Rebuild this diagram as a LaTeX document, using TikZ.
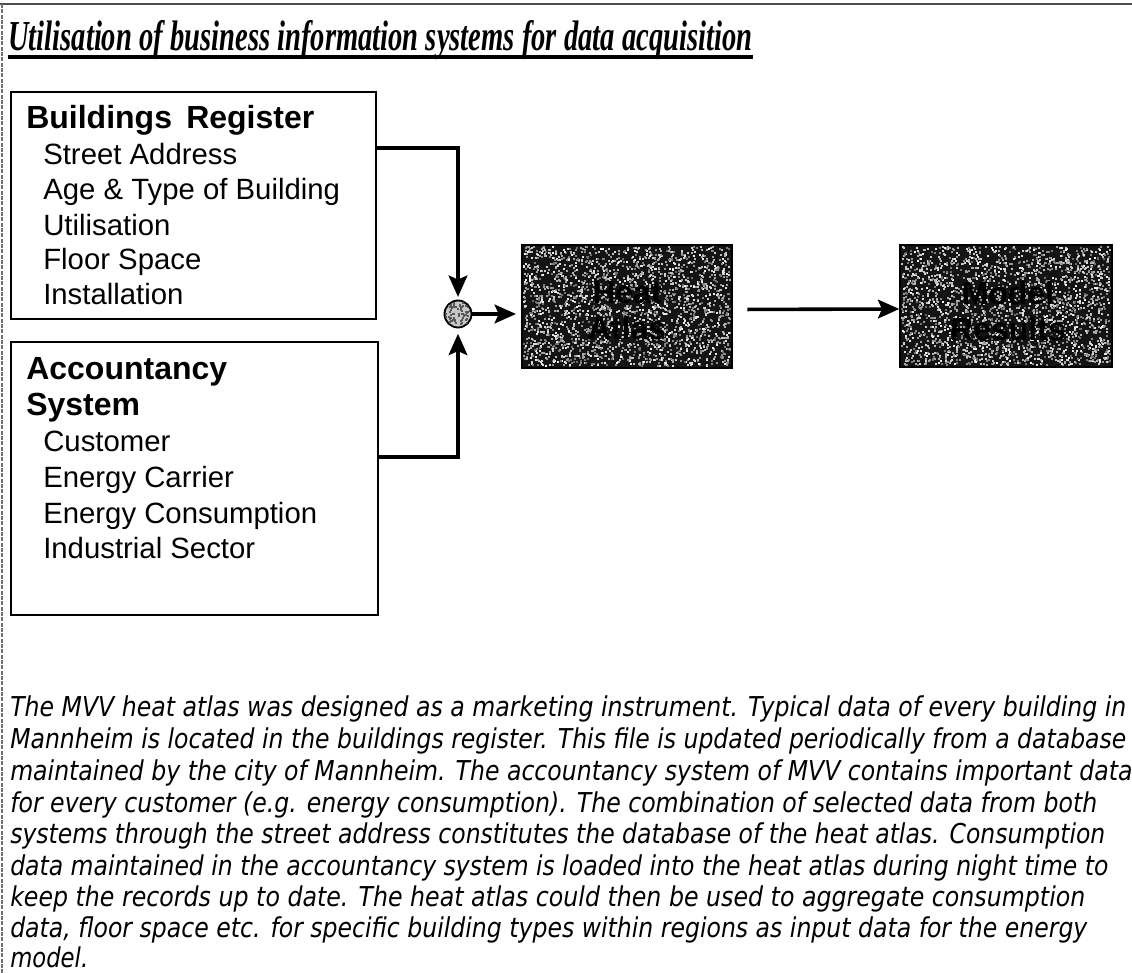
\documentclass[tikz,border=0pt]{standalone}
\usepackage{fontspec}
\setmainfont{Liberation Serif}
\newfontfamily\arialfont{Liberation Sans}
\newfontfamily\notefont{DejaVu Sans}
\usetikzlibrary{arrows.meta}
\newdimen\pxu \pxu=0.75pt
\begin{document}
\begin{tikzpicture}[x=0.75pt,y=-0.75pt,
  panel/.style={draw=black, line width=1.3pt, fill=none, inner sep=0, anchor=north west},
  darkbox/.style={draw=black, line width=1pt, fill=black!92, inner sep=0},
  flow/.style={line width=2.7pt, -{Stealth[length=16pt,width=14pt,inset=3pt]}},
  head/.style={font=\arialfont\bfseries\fontsize{24}{28}\selectfont, anchor=base west, inner sep=0},
  item/.style={font=\arialfont\fontsize{22}{26}\selectfont, anchor=base west, inner sep=0},
  darklabel/.style={font=\arialfont\bfseries\fontsize{24}{27}\selectfont, align=center, text=black, inner sep=0},
  note/.style={font=\notefont\itshape\fontsize{20.5}{24}\selectfont, anchor=base west, inner sep=0}
]
\useasboundingbox (0,0) rectangle (1132,973);
\fill[white] (0,0) rectangle (1132,973);

% page frame
\draw[black!70, line width=1.5pt] (0,4) -- (1132,4);
\draw[black!55, line width=0.8pt, dash pattern=on 3pt off 1pt] (2,4) -- (2,973);

% heading
\node[anchor=base west, inner sep=0, font=\bfseries\itshape\fontsize{32}{36}\selectfont] (title) at (8,51)
  {\resizebox{744\pxu}{\height}{Utilisation of business information systems for data acquisition}};
\draw[line width=2.4pt] ([yshift=-6\pxu]title.base west) -- ([yshift=-6\pxu]title.base east);

% source systems
\node[panel, minimum width=365\pxu, minimum height=227\pxu] (reg) at (10,91) {};
\node[head] (regtitle) at (26,129) {Buildings\hspace{4pt} Register};
\node[item] (reg1) at (43,165) {Street Address};
\node[item] (reg2) at (43,200) {Age \& Type of Building};
\node[item] (reg3) at (43,236) {Utilisation};
\node[item] (reg4) at (43,270) {Floor Space};
\node[item] (reg5) at (43,305) {Installation};

\node[panel, minimum width=367\pxu, minimum height=273\pxu] (acc) at (10,341) {};
\node[head] (acctitle1) at (26,380) {Accountancy};
\node[head] (acctitle2) at (26,416) {System};
\node[item] (acc1) at (43,452) {Customer};
\node[item] (acc2) at (43,488) {Energy Carrier};
\node[item] (acc3) at (43,523) {Energy Consumption};
\node[item] (acc4) at (43,558) {Industrial Sector};

% join point
\node[circle, draw=black, line width=1.4pt, fill=black!22, minimum size=27\pxu, inner sep=0] (mix) at (458,314) {};
\begin{scope}
  \clip (mix.center) circle[radius=9.8pt];
  \pgfmathsetseed{11}
  \foreach \k in {1,...,90}{
    \pgfmathsetmacro\sx{444+28*rnd}
    \pgfmathsetmacro\sy{300+28*rnd}
    \fill[black!65] (\sx,\sy) rectangle ++(2,2);
  }
\end{scope}

% target systems
\node[darkbox, minimum width=210\pxu, minimum height=123\pxu] (atlas) at (627,306.5) {};
\node[darkbox, minimum width=212\pxu, minimum height=122\pxu] (model) at (1006,306) {};
\pgfmathsetseed{42}
\foreach \k in {1,...,2200}{
  \pgfmathsetmacro\sx{523+206*rnd}
  \pgfmathsetmacro\sy{246+119*rnd}
  \pgfmathsetmacro\sg{40+55*rnd}
  \fill[white!\sg!black] (\sx,\sy) rectangle ++(2,2);
}
\foreach \k in {1,...,2200}{
  \pgfmathsetmacro\sx{901+208*rnd}
  \pgfmathsetmacro\sy{246+118*rnd}
  \pgfmathsetmacro\sg{40+55*rnd}
  \fill[white!\sg!black] (\sx,\sy) rectangle ++(2,2);
}
\node[darklabel] (atlaslabel) at (627,311) {Heat\\Atlas};
\node[darklabel] (modellabel) at (1008,311) {Model\\Results};

% data flow
\draw[flow, shorten >=2pt] ([yshift=-57\pxu]reg.north east) -| (mix.north);
\draw[flow, shorten >=4pt] ([yshift=-116\pxu]acc.north east) -| (mix.south);
\draw[flow, shorten >=4pt] (mix.east) -- (mix.east -| atlas.west);
\draw[flow, shorten <=11pt] ([yshift=-3\pxu]atlas.east) -- ([yshift=-3\pxu]model.west);

% explanatory note
\node[note] (n1) at (10,716) {\resizebox{1116\pxu}{\height}{The MVV heat atlas was designed as a marketing instrument. Typical data of every building in}};
\node[note] (n2) at (10,748) {\resizebox{1116\pxu}{\height}{Mannheim is located in the buildings register. This file is updated periodically from a database}};
\node[note] (n3) at (10,780) {\resizebox{1122\pxu}{\height}{maintained by the city of Mannheim. The accountancy system of MVV contains important data}};
\node[note] (n4) at (10,812) {\resizebox{1087\pxu}{\height}{for every customer (e.g. energy consumption). The combination of selected data from both}};
\node[note] (n5) at (10,843) {\resizebox{1095\pxu}{\height}{systems through the street address constitutes the database of the heat atlas. Consumption}};
\node[note] (n6) at (10,875) {\resizebox{1098\pxu}{\height}{data maintained in the accountancy system is loaded into the heat atlas during night time to}};
\node[note] (n7) at (10,906) {\resizebox{1075\pxu}{\height}{keep the records up to date. The heat atlas could then be used to aggregate consumption}};
\node[note] (n8) at (10,937) {\resizebox{1077\pxu}{\height}{data, floor space etc. for specific building types within regions as input data for the energy}};
\node[note] (n9) at (10,967) {\resizebox{78\pxu}{\height}{model.}};
\end{tikzpicture}
\end{document}
